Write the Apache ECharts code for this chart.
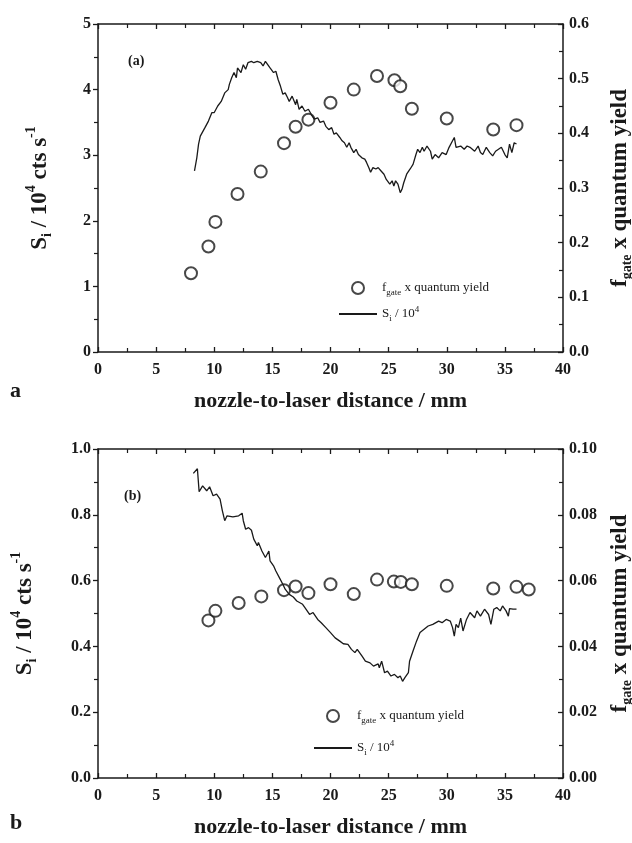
<!DOCTYPE html>
<html>
<head>
<meta charset="utf-8">
<script src="https://cdn.jsdelivr.net/npm/echarts@6/dist/echarts.min.js"></script>
<style>
html,body{margin:0;padding:0;background:#fff;}
#chart{width:632px;height:843px;}
</style>
</head>
<body>
<div id="chart"></div>
<script>
// ---- Panel (a) data ----
const aPtsX = [8, 9.5, 10.1, 12, 14, 16, 17, 18.1, 20, 22, 24, 25.5, 26, 27, 30, 34, 36];
const aPtsY = [0.144, 0.193, 0.238, 0.289, 0.330, 0.382, 0.412, 0.425, 0.456, 0.480, 0.505, 0.497, 0.486, 0.445, 0.427, 0.407, 0.415];
const aLineX = [8.3, 8.5, 8.65, 8.8, 9.2, 9.5, 9.8, 10.0, 10.3, 10.6, 10.9, 11.2, 11.3, 11.5, 11.7, 11.9, 12.0, 12.3, 12.5, 12.7, 12.9, 13.2, 13.4, 13.7, 14.0, 14.2, 14.4, 14.55, 14.8, 15.1, 15.3, 15.5, 15.7, 15.9, 16.1, 16.3, 16.45, 16.7, 17.0, 17.1, 17.3, 17.55, 17.8, 18.1, 18.35, 18.6, 18.9, 19.1, 19.4, 19.6, 19.85, 20.1, 20.3, 20.5, 20.8, 21.0, 21.2, 21.4, 21.6, 21.75, 22.0, 22.2, 22.4, 22.7, 22.95, 23.1, 23.3, 23.45, 23.65, 23.9, 24.1, 24.35, 24.6, 24.8, 24.9, 25.1, 25.3, 25.45, 25.6, 25.8, 26.0, 26.15, 26.3, 26.55, 26.85, 27.1, 27.35, 27.5, 27.7, 27.9, 28.05, 28.3, 28.6, 28.75, 29.0, 29.3, 29.6, 29.95, 30.2, 30.5, 30.65, 30.8, 31.2, 31.5, 31.75, 32.0, 32.4, 32.7, 32.9, 33.1, 33.4, 33.7, 33.95, 34.2, 34.45, 34.7, 35.0, 35.2, 35.4, 35.6, 35.8, 36.0];
const aLineY = [2.76, 2.96, 3.17, 3.29, 3.42, 3.52, 3.65, 3.65, 3.75, 3.82, 3.95, 4.00, 4.08, 4.18, 4.26, 4.18, 4.33, 4.26, 4.38, 4.31, 4.41, 4.43, 4.41, 4.43, 4.41, 4.36, 4.43, 4.46, 4.33, 4.26, 4.28, 4.15, 4.05, 3.93, 3.95, 3.88, 3.82, 3.90, 3.77, 3.85, 3.70, 3.75, 3.67, 3.70, 3.62, 3.55, 3.57, 3.50, 3.52, 3.44, 3.39, 3.42, 3.32, 3.34, 3.27, 3.22, 3.19, 3.12, 3.19, 3.12, 3.04, 3.09, 3.01, 2.96, 2.94, 2.89, 2.81, 2.74, 2.81, 2.79, 2.81, 2.76, 2.71, 2.63, 2.61, 2.56, 2.61, 2.53, 2.61, 2.56, 2.43, 2.48, 2.58, 2.71, 2.79, 2.86, 3.01, 3.09, 3.04, 3.12, 3.06, 3.14, 3.06, 2.94, 3.01, 2.96, 3.04, 3.01, 3.12, 3.22, 3.27, 3.12, 3.14, 3.09, 3.14, 3.12, 3.06, 3.14, 3.04, 3.01, 3.12, 3.04, 2.99, 3.06, 3.09, 3.12, 3.01, 2.96, 3.17, 3.04, 3.19, 3.17];

// ---- Panel (b) data ----
const bPtsX = [9.5, 10.1, 12.1, 14.05, 16, 17, 18.1, 20, 22, 24, 25.45, 26.05, 27, 30, 34, 36, 37.05];
const bPtsY = [0.0479, 0.0508, 0.0532, 0.0552, 0.0571, 0.0582, 0.0562, 0.0589, 0.0559, 0.0603, 0.0597, 0.0596, 0.0589, 0.0584, 0.0576, 0.0581, 0.0573];
const bLineX = [8.2, 8.55, 8.7, 9.0, 9.35, 9.6, 9.9, 10.2, 10.5, 10.7, 10.9, 11.1, 11.6, 12.1, 12.4, 12.5, 12.7, 12.95, 13.2, 13.4, 13.7, 13.8, 14.1, 14.4, 14.7, 14.8, 15.1, 15.3, 15.6, 15.9, 16.1, 16.45, 16.8, 17.1, 17.6, 17.8, 18.2, 18.5, 18.9, 19.2, 19.6, 20.0, 20.4, 20.8, 21.1, 21.5, 21.8, 22.1, 22.3, 22.7, 23.0, 23.4, 23.7, 24.1, 24.2, 24.4, 24.65, 24.9, 25.2, 25.5, 25.8, 26.0, 26.2, 26.4, 26.7, 26.8, 27.1, 27.4, 27.7, 28.05, 28.4, 28.8, 29.3, 29.6, 29.95, 30.3, 30.5, 30.65, 30.8, 31.0, 31.2, 31.4, 31.7, 32.0, 32.4, 32.6, 32.9, 33.25, 33.6, 33.8, 34.05, 34.3, 34.6, 34.8, 35.1, 35.3, 35.4, 35.7, 36.0];
const bLineY = [0.926, 0.94, 0.87, 0.888, 0.873, 0.885, 0.858, 0.863, 0.848, 0.812, 0.782, 0.797, 0.794, 0.797, 0.805, 0.782, 0.756, 0.761, 0.753, 0.726, 0.706, 0.716, 0.690, 0.670, 0.690, 0.660, 0.645, 0.629, 0.609, 0.589, 0.574, 0.558, 0.550, 0.538, 0.528, 0.518, 0.497, 0.503, 0.482, 0.472, 0.457, 0.442, 0.426, 0.416, 0.408, 0.406, 0.391, 0.381, 0.391, 0.371, 0.355, 0.350, 0.340, 0.347, 0.335, 0.355, 0.320, 0.325, 0.310, 0.315, 0.305, 0.310, 0.294, 0.305, 0.320, 0.355, 0.386, 0.416, 0.442, 0.452, 0.462, 0.467, 0.477, 0.472, 0.482, 0.477, 0.457, 0.431, 0.467, 0.457, 0.486, 0.447, 0.482, 0.503, 0.487, 0.508, 0.492, 0.513, 0.497, 0.467, 0.513, 0.518, 0.508, 0.523, 0.508, 0.492, 0.515, 0.513, 0.513];

// ---- Axis ticks ----
const xTicks = [0, 5, 10, 15, 20, 25, 30, 35, 40];
const aLeftTicks = [0, 1, 2, 3, 4, 5];
const aRightTicks = [0.0, 0.1, 0.2, 0.3, 0.4, 0.5, 0.6];
const bLeftTicks = [0.0, 0.2, 0.4, 0.6, 0.8, 1.0];
const bRightTicks = [0.00, 0.02, 0.04, 0.06, 0.08, 0.10];

const zip = (xs, ys) => xs.map((x, i) => [x, ys[i]]);

const SERIF = '"Liberation Serif", "DejaVu Serif", serif';
const INK = '#1a1a1a';

const richTitle = {
  b: {fontFamily: SERIF, fontWeight: 'bold', fontSize: 23, color: INK, lineHeight: 32},
  sub: {fontFamily: SERIF, fontWeight: 'bold', fontSize: 14, color: INK, verticalAlign: 'bottom', lineHeight: 14, padding: [0, 0, 2, 0]},
  sup: {fontFamily: SERIF, fontWeight: 'bold', fontSize: 14, color: INK, verticalAlign: 'top', lineHeight: 14}
};
const richLegend = {
  t: {fontFamily: SERIF, fontSize: 13, color: INK, lineHeight: 18},
  sub: {fontFamily: SERIF, fontSize: 9, color: INK, verticalAlign: 'bottom', lineHeight: 9},
  sup: {fontFamily: SERIF, fontSize: 9, color: INK, verticalAlign: 'top', lineHeight: 9}
};

function xAxisBottom(gi) {
  return {
    type: 'value', gridIndex: gi, position: 'bottom', min: 0, max: 40, interval: 5,
    axisLine: {onZero: false, lineStyle: {color: INK, width: 1.5}},
    axisTick: {inside: true, length: 5, lineStyle: {color: INK, width: 1.3}},
    minorTick: {show: true, splitNumber: 2, length: 4, lineStyle: {color: INK, width: 1.2}},
    splitLine: {show: false},
    axisLabel: {fontFamily: SERIF, fontWeight: 'bold', fontSize: 16, color: INK, margin: 10,
      formatter: v => xTicks.includes(v) ? String(v) : ''},
    name: 'nozzle-to-laser distance / mm', nameLocation: 'middle', nameGap: 38,
    nameTextStyle: {fontFamily: SERIF, fontWeight: 'bold', fontSize: 22, color: INK}
  };
}
function xAxisTop(gi) {
  return {
    type: 'value', gridIndex: gi, position: 'top', min: 0, max: 40, interval: 5,
    axisLine: {onZero: false, lineStyle: {color: INK, width: 1.5}},
    axisTick: {inside: true, length: 5, lineStyle: {color: INK, width: 1.3}},
    minorTick: {show: true, splitNumber: 2, length: 4, lineStyle: {color: INK, width: 1.2}},
    splitLine: {show: false},
    axisLabel: {show: false}
  };
}
function yLeft(gi, ticks, digits) {
  return {
    type: 'value', gridIndex: gi, position: 'left',
    min: ticks[0], max: ticks[ticks.length - 1], interval: ticks[1] - ticks[0],
    axisLine: {show: true, onZero: false, lineStyle: {color: INK, width: 1.5}},
    axisTick: {show: true, inside: false, length: 5, lineStyle: {color: INK, width: 1.3}},
    minorTick: {show: true, splitNumber: 2, length: 4, lineStyle: {color: INK, width: 1.2}},
    splitLine: {show: false},
    axisLabel: {fontFamily: SERIF, fontWeight: 'bold', fontSize: 16, color: INK, margin: 7,
      formatter: v => v.toFixed(digits)},
    name: '{b|S}{sub|i}{b| / 10}{sup|4}{b| cts s}{sup|-1}',
    nameLocation: 'middle', nameRotate: 90, nameGap: digits ? 57 : 42,
    nameTextStyle: {rich: richTitle}
  };
}
function yRight(gi, ticks, digits) {
  return {
    type: 'value', gridIndex: gi, position: 'right',
    min: ticks[0], max: ticks[ticks.length - 1], interval: ticks[1] - ticks[0],
    axisLine: {show: true, onZero: false, lineStyle: {color: INK, width: 1.5}},
    axisTick: {show: true, inside: true, length: 5, lineStyle: {color: INK, width: 1.3}},
    minorTick: {show: true, splitNumber: 2, length: 4, lineStyle: {color: INK, width: 1.2}},
    splitLine: {show: false},
    axisLabel: {fontFamily: SERIF, fontWeight: 'bold', fontSize: 16, color: INK, margin: 6,
      formatter: v => v.toFixed(digits)},
    name: '{b|f}{sub|gate}{b| x quantum yield}',
    nameLocation: 'middle', nameRotate: 90, nameGap: 41,
    nameTextStyle: {rich: richTitle}
  };
}

const legendFmt = name => name.startsWith('f')
  ? '{t|f}{sub|gate}{t| x quantum yield}'
  : '{t|S}{sub|i}{t| / 10}{sup|4}';

const chart = echarts.init(document.getElementById('chart'), null, {renderer: 'canvas'});
chart.setOption({
  animation: false,
  backgroundColor: '#fff',
  grid: [
    {left: 98, right: 69, top: 24, height: 328, outerBoundsMode: 'none', containLabel: false},
    {left: 98, right: 69, top: 449, height: 329, outerBoundsMode: 'none', containLabel: false}
  ],
  xAxis: [xAxisBottom(0), xAxisTop(0), xAxisBottom(1), xAxisTop(1)],
  yAxis: [yLeft(0, aLeftTicks, 0), yRight(0, aRightTicks, 1), yLeft(1, bLeftTicks, 1), yRight(1, bRightTicks, 2)],
  legend: [
    {left: 333, top: 276, orient: 'vertical', itemWidth: 38, itemHeight: 12, itemGap: 8,
      data: ['f_a', {name: 'S_a', itemStyle: {opacity: 0}}], formatter: legendFmt,
      textStyle: {rich: richLegend}, selectedMode: false},
    {left: 308, top: 704, orient: 'vertical', itemWidth: 38, itemHeight: 12, itemGap: 14,
      data: ['f_b', {name: 'S_b', itemStyle: {opacity: 0}}], formatter: legendFmt,
      textStyle: {rich: richLegend}, selectedMode: false}
  ],
  series: [
    {name: 'S_a', type: 'line', xAxisIndex: 0, yAxisIndex: 0, data: zip(aLineX, aLineY),
      symbol: 'none', lineStyle: {color: INK, width: 1.3}, itemStyle: {color: INK}},
    {name: 'f_a', type: 'scatter', xAxisIndex: 0, yAxisIndex: 1, data: zip(aPtsX, aPtsY),
      symbol: 'emptyCircle', symbolSize: 12, itemStyle: {color: INK, borderColor: INK, borderWidth: 1.2}},
    {name: 'S_b', type: 'line', xAxisIndex: 2, yAxisIndex: 2, data: zip(bLineX, bLineY),
      symbol: 'none', lineStyle: {color: INK, width: 1.3}, itemStyle: {color: INK}},
    {name: 'f_b', type: 'scatter', xAxisIndex: 2, yAxisIndex: 3, data: zip(bPtsX, bPtsY),
      symbol: 'emptyCircle', symbolSize: 12, itemStyle: {color: INK, borderColor: INK, borderWidth: 1.2}}
  ],
  graphic: [
    {type: 'text', left: 128, top: 54, style: {text: '(a)', font: 'bold 14px ' + SERIF, fill: INK}},
    {type: 'text', left: 124, top: 489, style: {text: '(b)', font: 'bold 14px ' + SERIF, fill: INK}},
    {type: 'text', left: 10, top: 380, style: {text: 'a', font: 'bold 22px ' + SERIF, fill: INK}},
    {type: 'text', left: 10, top: 812, style: {text: 'b', font: 'bold 22px ' + SERIF, fill: INK}}
  ]
});
</script>
</body>
</html>
